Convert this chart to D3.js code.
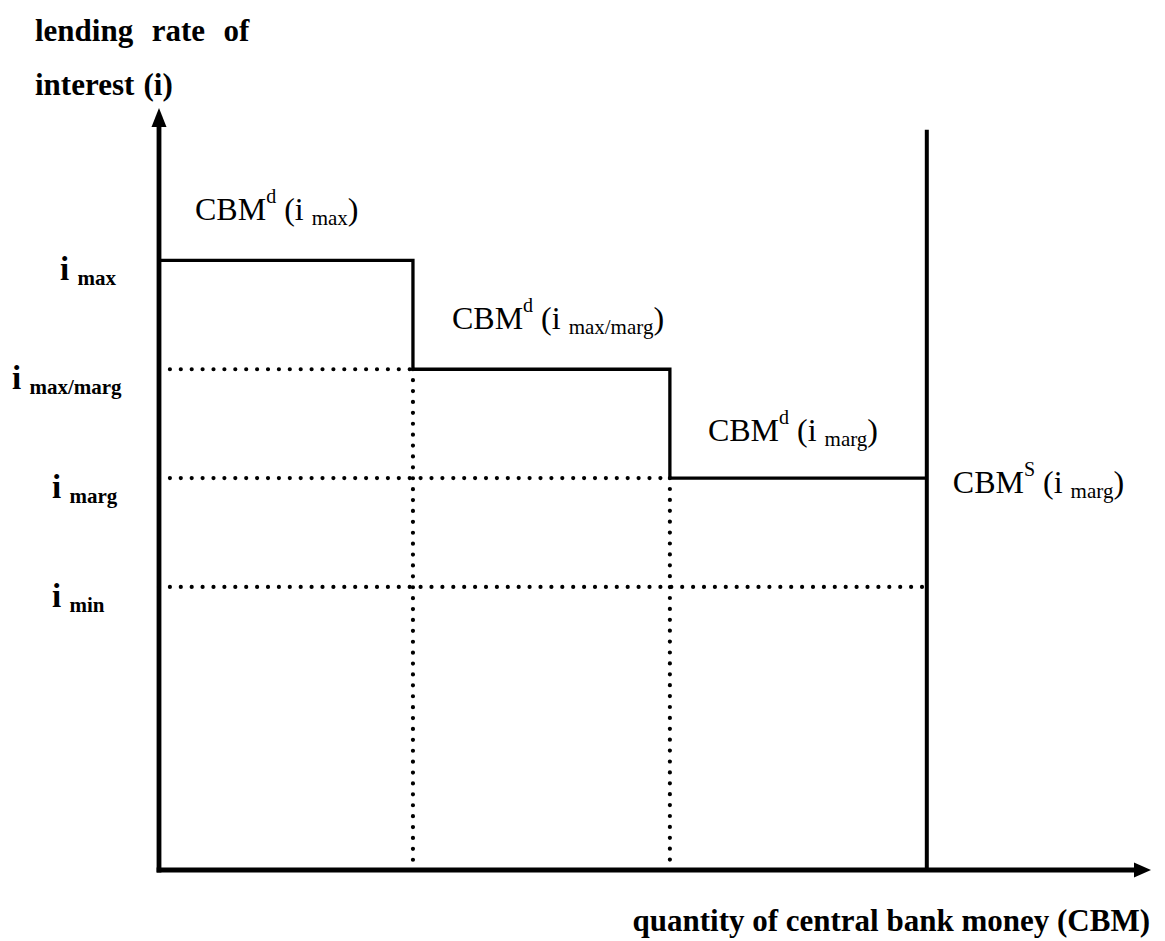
<!DOCTYPE html>
<html>

<head>
    <meta charset="utf-8" />
    <title>CBM market</title>
    <style>
        body { margin: 0; background: #fff; }
        svg { display: block; font-family: "Liberation Serif", "Times New Roman", serif; }
    </style>
</head>

<body>
    <svg width=1165 height=941></svg>
</body>

<script src="https://cdn.jsdelivr.net/npm/d3@7"></script>
<script>

    // rates on the vertical axis
    var rateNames = ['max', 'max/marg', 'marg', 'min'];
    var rateValues = [5.6, 4.6, 3.6, 2.6];

    // demand steps: quantity where each step starts / ends, and its rate
    var stepStart = [0, 25.6, 51.5];
    var stepEnd = [25.6, 51.5, 77.4];
    var stepRate = ['max', 'max/marg', 'marg'];

    // supply of central bank money
    var supplyQuantity = 77.4;
    var supplyRate = 'marg';
    var supplyTop = 6.8;

    var axisMaxX = 100;
    var axisMaxY = 7;

    var xTitle = 'quantity of central bank money (CBM)';
    var yTitle = ['lending  rate  of', 'interest (i)'];

    // left edge of each rate label (layout only)
    var rateLabelLeft = [60, 12, 52, 52];

    var rate = {};
    rateNames.forEach(function (n, i) { rate[n] = rateValues[i]; });

    var svg = d3.select('svg');

    var x = d3.scaleLinear().domain([0, axisMaxX]).range([159, 1151]);
    var y = d3.scaleLinear().domain([0, axisMaxY]).range([870, 108]);

    var dots = function (sel) {
        return sel.attr('stroke', '#000')
            .attr('stroke-width', 4.2)
            .attr('stroke-linecap', 'round')
            .attr('stroke-dasharray', '0 10.9')
            .attr('fill', 'none');
    };

    // dotted guides
    var hGuides = [
        { r: 'max/marg', to: stepStart[1] },
        { r: 'marg', to: stepStart[2] },
        { r: 'min', to: supplyQuantity }
    ];
    svg.selectAll('line.hdot')
        .data(hGuides)
        .enter()
        .append('line')
        .attr('class', 'hdot')
        .attr('x1', x(0))
        .attr('x2', function (d) { return x(d.to); })
        .attr('y1', function (d) { return y(rate[d.r]); })
        .attr('y2', function (d) { return y(rate[d.r]); })
        .call(dots);

    svg.selectAll('line.vdot')
        .data([1, 2])
        .enter()
        .append('line')
        .attr('class', 'vdot')
        .attr('x1', function (i) { return x(stepStart[i]); })
        .attr('x2', function (i) { return x(stepStart[i]); })
        .attr('y1', function (i) { return y(rate[stepRate[i]]); })
        .attr('y2', y(0))
        .call(dots);

    // demand staircase
    var pts = stepStart.map(function (s, i) { return [s, rate[stepRate[i]]]; });
    pts.push([stepEnd[stepEnd.length - 1], rate[stepRate[stepRate.length - 1]]]);

    svg.append('path')
        .datum(pts)
        .attr('d', d3.line()
            .x(function (d) { return x(d[0]); })
            .y(function (d) { return y(d[1]); })
            .curve(d3.curveStepAfter))
        .attr('fill', 'none')
        .attr('stroke', '#000')
        .attr('stroke-width', 3.3);

    // supply line
    svg.append('line')
        .attr('x1', x(supplyQuantity))
        .attr('x2', x(supplyQuantity))
        .attr('y1', y(supplyTop))
        .attr('y2', y(0))
        .attr('stroke', '#000')
        .attr('stroke-width', 4);

    // axes
    svg.append('line')
        .attr('x1', x(0)).attr('x2', x(0))
        .attr('y1', y(0) + 2.5).attr('y2', y(axisMaxY) + 16)
        .attr('stroke', '#000').attr('stroke-width', 4.8);
    svg.append('line')
        .attr('x1', x(0) - 2.4).attr('x2', x(axisMaxX) - 14)
        .attr('y1', y(0)).attr('y2', y(0))
        .attr('stroke', '#000').attr('stroke-width', 4.8);

    svg.append('path')
        .attr('d', 'M' + x(0) + ',' + y(axisMaxY) + 'l-7.5,19h15z')
        .attr('fill', '#000');
    svg.append('path')
        .attr('d', 'M' + x(axisMaxX) + ',' + y(0) + 'l-17,-7.5v15z')
        .attr('fill', '#000');

    // rate labels
    var rl = svg.selectAll('text.rate')
        .data(rateNames)
        .enter()
        .append('text')
        .attr('class', 'rate')
        .attr('x', function (d, i) { return rateLabelLeft[i]; })
        .attr('y', function (d) { return y(rate[d]) + 20; })
        .attr('font-weight', 'bold')
        .attr('font-size', 33);
    rl.append('tspan').text('i ');
    rl.append('tspan')
        .attr('font-size', 21)
        .attr('dy', 5)
        .text(function (d) { return d; });

    // curve labels
    var curveLabels = [
        { sup: 'd', sub: 'max', q: stepStart[0], r: 'max', dx: 36, dy: -40 },
        { sup: 'd', sub: 'max/marg', q: stepStart[1], r: 'max/marg', dx: 39, dy: -40 },
        { sup: 'd', sub: 'marg', q: stepStart[2], r: 'marg', dx: 38, dy: -37 },
        { sup: 'S', sub: supplyRate, q: supplyQuantity, r: supplyRate, dx: 26, dy: 15 }
    ];
    var cl = svg.selectAll('text.curve')
        .data(curveLabels)
        .enter()
        .append('text')
        .attr('class', 'curve')
        .attr('x', function (d) { return x(d.q) + d.dx; })
        .attr('y', function (d) { return y(rate[d.r]) + d.dy; })
        .attr('font-size', 32);
    cl.append('tspan').text('CBM');
    cl.append('tspan')
        .attr('font-size', 20)
        .attr('dy', -17)
        .text(function (d) { return d.sup; });
    cl.append('tspan')
        .attr('dy', 17)
        .text(' (i ');
    cl.append('tspan')
        .attr('font-size', 21)
        .attr('dy', 5)
        .text(function (d) { return d.sub; });
    cl.append('tspan')
        .attr('dy', -5)
        .text(')');

    // titles
    svg.selectAll('text.ytitle')
        .data(yTitle)
        .enter()
        .append('text')
        .attr('class', 'ytitle')
        .attr('x', 35)
        .attr('y', function (d, i) { return 41 + i * 54; })
        .attr('font-weight', 'bold')
        .attr('font-size', 31)
        .attr('word-spacing', 1.5)
        .style('white-space', 'pre')
        .text(function (d) { return d; });

    svg.append('text')
        .attr('x', 1150)
        .attr('y', 931)
        .attr('text-anchor', 'end')
        .attr('font-weight', 'bold')
        .attr('font-size', 31)
        .text(xTitle);
</script>

</html>
